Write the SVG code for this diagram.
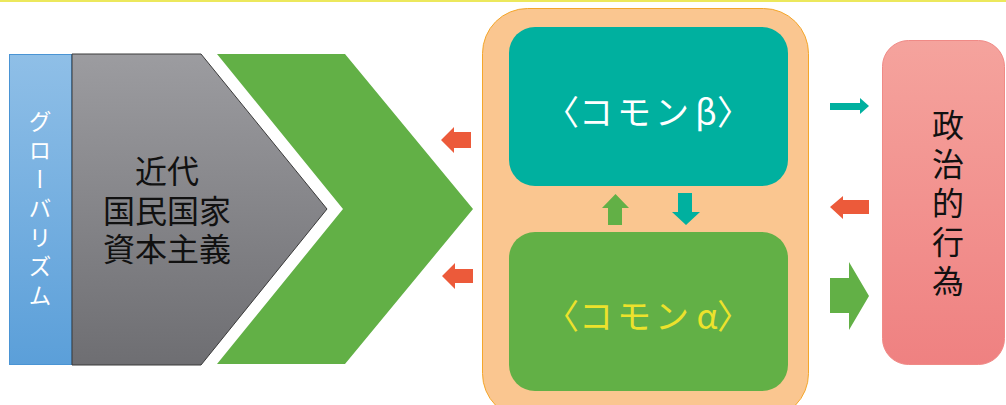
<svg xmlns="http://www.w3.org/2000/svg" width="1006" height="405" viewBox="0 0 1006 405">
<defs>
<linearGradient id="gBlue" x1="0" y1="0" x2="0" y2="1"><stop offset="0" stop-color="#8fbfe7"/><stop offset="1" stop-color="#5b9fd9"/></linearGradient>
<linearGradient id="gGray" x1="0" y1="0" x2="0" y2="1"><stop offset="0" stop-color="#9c9ca0"/><stop offset="1" stop-color="#6e6e72"/></linearGradient>
<linearGradient id="gPink" x1="0" y1="0" x2="0" y2="1"><stop offset="0" stop-color="#f5a39d"/><stop offset="1" stop-color="#ef8181"/></linearGradient>
<style>
.jp{font-family:"Noto Sans CJK JP","Noto Sans CJK SC",sans-serif;}
.vt{writing-mode:vertical-rl;text-orientation:upright;}
.red{fill:#ec5a3a;}
.grn{fill:#62b046;}
.teal{fill:#00b09f;}
</style>
</defs>
<rect x="0" y="0" width="1006" height="405" fill="#ffffff"/>
<rect x="0" y="0" width="1006" height="2" fill="#ece85c"/>

<g id="globalism">
<rect x="9.5" y="54.5" width="62" height="310" fill="url(#gBlue)" stroke="#4a94d4" stroke-width="1"/>
<text class="jp vt" x="40" y="110" font-size="23" fill="#ffffff" letter-spacing="6">グローバリズム</text>
</g>

<g id="modern-state">
<polygon points="72,54 201,54 327,209 201,365 72,365" fill="url(#gGray)" stroke="#3a3a3a" stroke-width="1"/>
<text class="jp" font-size="32" fill="#111" text-anchor="middle"><tspan x="167" y="183">近代</tspan><tspan x="167" y="223">国民国家</tspan><tspan x="167" y="261">資本主義</tspan></text>
</g>

<g id="chevron">
<polygon class="grn" points="217,54 345,54 473,209 345,364 217,364 343,209"/>
</g>

<g id="commons">
<rect x="482.5" y="8.5" width="326" height="410" rx="45" ry="45" fill="#fac690" stroke="#f4a62a" stroke-width="1"/>
</g>

<g id="commons-beta">
<rect x="509" y="27" width="279" height="159" rx="26" ry="26" fill="#00b09f"/>
<text class="jp" font-size="34" fill="#ffffff" text-anchor="middle" dominant-baseline="central"><tspan x="562" y="110">〈</tspan><tspan x="596" y="110">コ</tspan><tspan x="634" y="110">モ</tspan><tspan x="672" y="110">ン</tspan><tspan x="706" y="110">β</tspan><tspan x="734" y="110">〉</tspan></text>
</g>

<g id="commons-alpha">
<rect x="509" y="232" width="279" height="159" rx="26" ry="26" fill="#62b046"/>
<text class="jp" font-size="34" fill="#ece22c" text-anchor="middle" dominant-baseline="central"><tspan x="562" y="314">〈</tspan><tspan x="596" y="314">コ</tspan><tspan x="634" y="314">モ</tspan><tspan x="672" y="314">ン</tspan><tspan x="707" y="314">α</tspan><tspan x="734" y="314">〉</tspan></text>
</g>

<g id="political-action">
<rect x="882.5" y="40.5" width="122" height="324" rx="26" ry="26" fill="url(#gPink)" stroke="#f08a86" stroke-width="1"/>
<text class="jp vt" x="948" y="109" font-size="32" fill="#111" letter-spacing="7">政治的行為</text>
</g>

<g id="connectors">
<polygon class="red" points="441,140 454,127 454,132 471,132 471,148 454,148 454,153"/>
<polygon class="red" points="442,276 455,263 455,269 473,269 473,283 455,283 455,289"/>
<polygon class="grn" points="602,208 615.5,194 629,208 622,208 622,225 608,225 608,208"/>
<polygon class="teal" points="678,193 692,193 692,212 700,212 686,225 672,212 678,212"/>
<polygon class="teal" points="830,103 860,103 860,98 869,106 860,114 860,110 830,110"/>
<polygon class="red" points="830,207 843,196 843,200 869,200 869,214 843,214 843,219"/>
<polygon class="grn" points="830,278 849,278 849,262 869,296 849,330 849,313 830,313"/>
</g>
</svg>
